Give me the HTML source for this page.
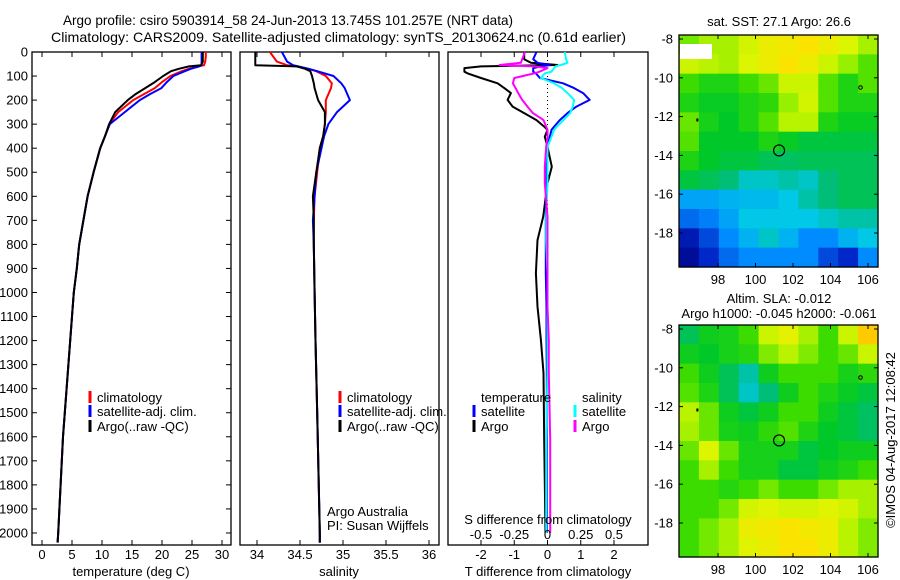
<!DOCTYPE html>
<html><head><meta charset="utf-8"><style>
html,body{margin:0;padding:0;background:#fff;}
svg{display:block;font-family:"Liberation Sans",sans-serif;font-size:13px;}
</style></head><body>
<svg id="fig" width="900" height="580" viewBox="0 0 900 580" xmlns="http://www.w3.org/2000/svg">
<rect width="900" height="580" fill="#fff"/>
<text x="63" y="25" font-size="14" textLength="450" lengthAdjust="spacingAndGlyphs">Argo profile: csiro 5903914_58 24-Jun-2013 13.745S 101.257E (NRT data)</text>
<text x="51" y="42" font-size="14" textLength="575" lengthAdjust="spacingAndGlyphs">Climatology: CARS2009. Satellite-adjusted climatology: synTS_20130624.nc (0.61d earlier)</text>
<g id="g1"></g>
<g id="g2"></g>
<g id="g3"></g>
<g id="m1"></g>
<g id="m2"></g>
<text transform="translate(895,440) rotate(-90)" text-anchor="middle">©IMOS 04-Aug-2017 12:08:42</text>
</svg>
<script>
// ---- data ----
const tDepths=[0,20,40,55,60,70,80,100,125,150,175,200,250,300,350,400,500,600,700,800,900,1000,1100,1200,1300,1400,1500,1600,1700,1800,1900,2000,2040];
const tClim=[27.3,27.3,27.2,27.0,26.0,24.5,23.3,21.4,20.0,18.8,17.0,15.2,12.7,11.2,10.5,9.7,8.6,7.6,6.9,6.2,5.8,5.3,5.0,4.7,4.4,4.1,3.8,3.5,3.3,3.1,2.9,2.7,2.6];
const tSat=[26.6,26.6,26.6,26.6,26.2,24.8,23.8,21.9,20.8,19.9,18.0,16.3,13.8,11.3,10.5,9.7,8.6,7.6,6.9,6.2,5.8,5.3,5.0,4.7,4.4,4.1,3.8,3.5,3.3,3.1,2.9,2.7,2.6];
const tArgo=[26.8,26.8,26.8,26.5,24.5,22.8,21.5,20.2,18.8,17.2,15.6,14.3,12.2,11.2,10.5,9.7,8.6,7.6,6.9,6.2,5.8,5.3,5.0,4.7,4.4,4.1,3.8,3.5,3.3,3.1,2.9,2.7,2.6];
const sDepths=[0,40,55,60,70,80,100,130,150,200,250,300,350,400,500,600,700,800,1000,1200,1500,2000,2040];
const sArgo=[33.98,33.98,33.98,34.46,34.56,34.62,34.64,34.66,34.67,34.71,34.79,34.79,34.77,34.73,34.69,34.65,34.66,34.66,34.67,34.68,34.70,34.73,34.73];
const sClim=[34.15,34.23,34.35,34.46,34.6,34.69,34.8,34.87,34.86,34.8,34.8,34.79,34.77,34.73,34.7,34.67,34.66,34.66,34.67,34.68,34.70,34.73,34.73];
const sSat=[34.29,34.35,34.42,34.48,34.6,34.7,34.89,34.98,35.02,35.08,34.93,34.83,34.78,34.75,34.69,34.67,34.65,34.66,34.67,34.68,34.70,34.73,34.73];
const dDepths=[0,30,45,54,60,67,82,89,108,130,150,171,199,227,254,283,310,324,352,394,477,546,685,782,920,1059,1197,1335,1613,2000];
const dTArgo=[-0.7,-0.7,-0.5,0.3,-2.0,-2.5,-2.5,-2.4,-2.0,-1.5,-1.3,-1.1,-1.2,-1.05,-0.7,-0.33,-0.1,0,-0.08,0.0,0.13,0,-0.13,-0.3,-0.35,-0.3,-0.2,-0.12,-0.1,-0.06];
const dTSat=[-0.33,-0.43,-0.3,0.07,-0.2,-0.43,-0.43,-0.35,-0.23,0.47,0.8,1.07,1.27,0.87,0.6,0.37,0.2,0.12,0.07,0.0,-0.03,-0.03,-0.05,-0.05,-0.05,-0.03,-0.03,-0.02,-0.02,-0.02];
const dSSat=[0.13,0.14,0.15,0.1,0.06,0.05,0.03,-0.02,-0.05,0.05,0.11,0.15,0.2,0.19,0.17,0.12,0.07,0.05,0.03,0,0,0,-0.01,-0.01,0,0,0,0,-0.01,-0.01];
const dSArgo=[-0.17,-0.19,-0.2,-0.36,-0.1,0.0,-0.06,-0.1,-0.25,-0.26,-0.24,-0.22,-0.19,-0.15,-0.11,-0.03,-0.01,0,0,-0.01,-0.02,-0.02,0,0,0,0,0.01,0.01,0.02,0.02];
const depthTicks=[0,100,200,300,400,500,600,700,800,900,1000,1100,1200,1300,1400,1500,1600,1700,1800,1900,2000];
const tTicks=[0,5,10,15,20,25,30];
const sTicks=[34,34.5,35,35.5,36];
const dTTicks=[-2,-1,0,1,2];
const dSTicks=[-0.5,-0.25,0,0.25,0.5];
const dSTickLabels=["-0.5","-0.25","0","0.25","0.5"];
const lonTicks=[98,100,102,104,106];
const latTicks=[-8,-10,-12,-14,-16,-18];
const sstGrid=[
[.65,.7,.7,.75,.8,.82,.84,.8,.76,.7],
[.74,.72,.7,.76,.8,.84,.8,.74,.68,.62],
[.6,.56,.56,.6,.64,.74,.74,.62,.56,.62],
[.56,.53,.53,.56,.58,.68,.75,.62,.56,.56],
[.64,.55,.52,.56,.62,.72,.72,.56,.53,.53],
[.62,.52,.52,.52,.56,.53,.5,.5,.5,.5],
[.56,.52,.5,.5,.48,.47,.48,.48,.48,.48],
[.5,.48,.45,.4,.4,.42,.4,.45,.48,.48],
[.33,.33,.35,.36,.36,.38,.42,.45,.48,.48],
[.25,.28,.33,.38,.38,.38,.38,.4,.42,.42],
[.1,.2,.3,.35,.4,.35,.3,.3,.35,.38],
[.05,.15,.25,.3,.3,.3,.3,.2,.15,.3]];
const slaGrid=[
[.48,.54,.55,.6,.74,.78,.7,.6,.74,.9],
[.54,.52,.55,.57,.66,.72,.66,.6,.64,.74],
[.6,.54,.48,.42,.54,.6,.6,.6,.55,.58],
[.62,.56,.48,.4,.45,.54,.6,.56,.53,.5],
[.72,.64,.54,.5,.54,.6,.6,.54,.5,.47],
[.7,.64,.55,.54,.58,.62,.56,.52,.5,.47],
[.64,.76,.64,.55,.55,.55,.5,.52,.54,.54],
[.6,.7,.6,.55,.55,.5,.5,.54,.56,.6],
[.6,.6,.57,.6,.65,.6,.6,.65,.7,.7],
[.6,.6,.65,.75,.77,.75,.75,.77,.75,.7],
[.6,.65,.7,.8,.82,.84,.82,.8,.72,.66],
[.6,.65,.7,.77,.8,.84,.84,.8,.72,.66]];
const argoLon=101.257, argoLat=-13.745;

// ---- helpers ----
const NS="http://www.w3.org/2000/svg";
function mk(parent,tag,attrs,text){const e=document.createElementNS(NS,tag);for(const k in attrs)e.setAttribute(k,attrs[k]);if(text!==undefined)e.textContent=text;parent.appendChild(e);return e;}
const TOP=52,BOT=545;
const yD=d=>TOP+(d/2050)*(BOT-TOP);
function lin(d0,d1,r0,r1){return v=>r0+(v-d0)/(d1-d0)*(r1-r0);}

function frame(g,x0,x1,xTicks,xScale,labels,yTicks,name){
  const r=mk(g,'rect',{x:x0,y:TOP,width:x1-x0,height:BOT-TOP,fill:'none',stroke:'#000','stroke-width':1.3});
  
  
  xTicks.forEach((t,i)=>{const x=xScale(t);
    mk(g,'line',{x1:x,x2:x,y1:TOP,y2:TOP+5,stroke:'#000'});
    mk(g,'line',{x1:x,x2:x,y1:BOT,y2:BOT-5,stroke:'#000'});
    if(labels){const tx=mk(g,'text',{x:x,y:559,'text-anchor':'middle'},labels[i]);
      
      }
  });
  if(yTicks){yTicks.forEach(d=>{const y=yD(d);
    mk(g,'line',{x1:x0,x2:x0+5,y1:y,y2:y,stroke:'#000'});
    mk(g,'line',{x1:x1,x2:x1-5,y1:y,y2:y,stroke:'#000'});
    const tx=mk(g,'text',{x:x0-4,y:y+4.5,'text-anchor':'end'},String(d));
    
    });}
}
function line(g,vals,depths,xs,color,name,w){
  const pts=vals.map((v,i)=>xs(v).toFixed(1)+','+yD(depths[i]).toFixed(1)).join(' ');
  const p=mk(g,'polyline',{points:pts,fill:'none',stroke:color,'stroke-width':w||2,'stroke-linejoin':'round'});
  
  
}
function legend(g,x,y,color,label,name){
  mk(g,'rect',{x:x-1.5,y:y-11,width:3,height:12,fill:color});
  const t=mk(g,'text',{x:x+7,y:y},label);
  
  
}

// ---- panel 1 ----
const g1=document.getElementById('g1');
const xT=lin(0,30,42,222);
frame(g1,32,231,tTicks,xT,tTicks.map(String),depthTicks,'temperature');
line(g1,tClim,tDepths,xT,'#ff0000','temperature-climatology-line');
line(g1,tSat,tDepths,xT,'#0000ff','temperature-satellite-line');
line(g1,tArgo,tDepths,xT,'#000000','temperature-argo-line');
legend(g1,90,402,'#ff0000','climatology','legend-climatology');
legend(g1,90,416,'#0000ff','satellite-adj. clim.','legend-satellite-adj');
legend(g1,90,431,'#000000','Argo(..raw -QC)','legend-argo');
let tt=mk(g1,'text',{x:131,y:576,'text-anchor':'middle'},'temperature (deg C)');


// ---- panel 2 ----
const g2=document.getElementById('g2');
const xS=lin(34,36,257,429);
frame(g2,240,439,sTicks,xS,sTicks.map(String),null,'salinity');
line(g2,sClim,sDepths,xS,'#ff0000','salinity-climatology-line');
line(g2,sSat,sDepths,xS,'#0000ff','salinity-satellite-line');
line(g2,sArgo,sDepths,xS,'#000000','salinity-argo-line');
legend(g2,340,402,'#ff0000','climatology','legend-climatology');
legend(g2,340,416,'#0000ff','satellite-adj. clim.','legend-satellite-adj');
legend(g2,340,431,'#000000','Argo(..raw -QC)','legend-argo');
tt=mk(g2,'text',{x:339,y:576,'text-anchor':'middle'},'salinity');

tt=mk(g2,'text',{x:327,y:516},'Argo Australia');

tt=mk(g2,'text',{x:327,y:530},'PI: Susan Wijffels');


// ---- panel 3 ----
const g3=document.getElementById('g3');
const xDT=lin(-2,2,481,614);
const xDS=lin(-0.5,0.5,481,614);
frame(g3,448,648,dTTicks,xDT,dTTicks.map(String),null,'t-difference');
mk(g3,'line',{x1:xDT(0),x2:xDT(0),y1:TOP,y2:330,stroke:'#000','stroke-dasharray':'1,3'});
line(g3,dTArgo,dDepths,xDT,'#000000','t-difference-argo-line');
line(g3,dTSat,dDepths,xDT,'#0000ff','t-difference-satellite-line');
line(g3,dSSat,dDepths,xDS,'#00ffff','s-difference-satellite-line');
line(g3,dSArgo,dDepths,xDS,'#ff00ff','s-difference-argo-line');
dSTicks.forEach((t,i)=>{const x=xDS(t);
  const e=mk(g3,'text',{x:x,y:539,'text-anchor':'middle'},dSTickLabels[i]);
  });
tt=mk(g3,'text',{x:548,y:524,'text-anchor':'middle'},'S difference from climatology');

tt=mk(g3,'text',{x:548,y:576,'text-anchor':'middle'},'T difference from climatology');

tt=mk(g3,'text',{x:481,y:402},'temperature');

tt=mk(g3,'text',{x:582,y:402},'salinity');

legend(g3,474,416,'#0000ff','satellite','legend-t-satellite');
legend(g3,474,431,'#000000','Argo','legend-t-argo');
legend(g3,575,416,'#00ffff','satellite','legend-s-satellite');
legend(g3,575,431,'#ff00ff','Argo','legend-s-argo');

// ---- maps ----
const stops=[[0,[0,0,130]],[0.15,[0,40,200]],[0.3,[0,140,255]],[0.38,[0,200,230]],[0.45,[0,190,120]],[0.52,[0,200,40]],[0.6,[60,220,0]],[0.68,[150,240,0]],[0.76,[220,245,0]],[0.85,[255,225,0]],[1,[255,160,0]]];
function cmap(v){for(let i=1;i<stops.length;i++){if(v<=stops[i][0]){const a=stops[i-1],b=stops[i];const f=(v-a[0])/(b[0]-a[0]);
  const c=a[1].map((x,k)=>Math.round(x+(b[1][k]-x)*f));return 'rgb('+c.join(',')+')';}}return 'rgb(255,160,0)';}
function map(id,grid,top,bot,name){
  const g=document.getElementById(id);
  const L=679,R=878;
  const xs=lin(98,106,718,868), ys=lin(-8,-18,top+4,top+198);
  const rows=grid.length, cols=grid[0].length;
  const cw=(R-L)/cols, ch=(bot-top)/rows;
  grid.forEach((row,r)=>row.forEach((v,c)=>{
    const e=mk(g,'rect',{x:(L+c*cw).toFixed(2),y:(top+r*ch).toFixed(2),width:(cw+0.6).toFixed(2),height:(ch+0.6).toFixed(2),fill:cmap(v)});
    
    
  }));
  if(id==='m1'){mk(g,'rect',{x:680,y:44,width:32,height:15,fill:'#fff'});}
  const f=mk(g,'rect',{x:L,y:top,width:R-L,height:bot-top,fill:'none',stroke:'#000','stroke-width':1.3});
  
  lonTicks.forEach(t=>{const x=xs(t);
    mk(g,'line',{x1:x,x2:x,y1:top,y2:top+4,stroke:'#000'});
    mk(g,'line',{x1:x,x2:x,y1:bot,y2:bot-4,stroke:'#000'});
    const e=mk(g,'text',{x:x,y:bot+17,'text-anchor':'middle'},String(t));
    });
  latTicks.forEach(t=>{const y=ys(t);
    mk(g,'line',{x1:L,x2:L+4,y1:y,y2:y,stroke:'#000'});
    mk(g,'line',{x1:R,x2:R-4,y1:y,y2:y,stroke:'#000'});
    const e=mk(g,'text',{x:L-6,y:y+4.5,'text-anchor':'end'},String(t));
    });
  const c=mk(g,'circle',{cx:xs(argoLon),cy:ys(argoLat),r:5.5,fill:'none',stroke:'#000','stroke-width':1.2});
  
  mk(g,'circle',{cx:xs(105.6),cy:ys(-10.5),r:1.8,fill:'none',stroke:'#000'});
  mk(g,'rect',{x:xs(96.9)-1,y:ys(-12.2)-2,width:2,height:3,fill:'#000'});
  return g;
}
const gm1=map('m1',sstGrid,35,267,'sst-map');
tt=mk(gm1,'text',{x:779,y:26,'text-anchor':'middle'},'sat. SST: 27.1 Argo: 26.6');

const gm2=map('m2',slaGrid,325,557,'sla-map');
tt=mk(gm2,'text',{x:779,y:303,'text-anchor':'middle'},'Altim. SLA: -0.012');

tt=mk(gm2,'text',{x:779,y:318,'text-anchor':'middle'},'Argo h1000: -0.045 h2000: -0.061');

</script>
</body></html>
